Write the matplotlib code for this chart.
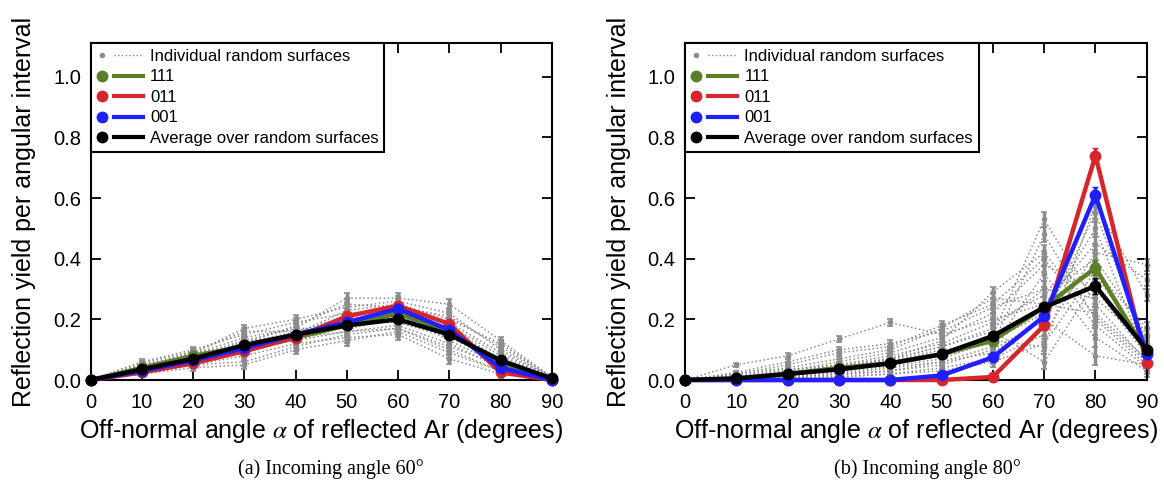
import numpy as np
import matplotlib
matplotlib.use("Agg")
import matplotlib.pyplot as plt
from matplotlib.lines import Line2D
from matplotlib.legend_handler import HandlerBase

plt.rcParams["font.family"] = ["Liberation Sans", "DejaVu Sans"]
plt.rcParams["mathtext.fontset"] = "stix"

angles = [0, 10, 20, 30, 40, 50, 60, 70, 80, 90]

# panel (a): incoming angle 60 deg
a_111 = [0, 0.040, 0.080, 0.110, 0.140, 0.180, 0.220, 0.160, 0.050, 0.000]
a_011 = [0, 0.025, 0.055, 0.095, 0.140, 0.210, 0.245, 0.185, 0.025, 0.000]
a_001 = [0, 0.030, 0.065, 0.105, 0.150, 0.190, 0.235, 0.165, 0.040, 0.000]
a_avg = [0, 0.035, 0.070, 0.115, 0.150, 0.180, 0.200, 0.150, 0.065, 0.005]
a_err_main = [0, 0.006, 0.007, 0.008, 0.009, 0.010, 0.010, 0.009, 0.007, 0.002]
a_surfaces = [
    [0, 0.040, 0.080, 0.130, 0.170, 0.270, 0.270, 0.250, 0.130, 0.010],
    [0, 0.050, 0.090, 0.170, 0.200, 0.240, 0.260, 0.220, 0.100, 0.010],
    [0, 0.030, 0.060, 0.100, 0.130, 0.160, 0.180, 0.120, 0.040, 0.000],
    [0, 0.020, 0.050, 0.060, 0.110, 0.150, 0.170, 0.100, 0.030, 0.000],
    [0, 0.040, 0.070, 0.120, 0.160, 0.190, 0.210, 0.170, 0.070, 0.005],
    [0, 0.060, 0.100, 0.150, 0.190, 0.220, 0.230, 0.190, 0.090, 0.010],
    [0, 0.030, 0.050, 0.080, 0.120, 0.140, 0.150, 0.070, 0.020, 0.000],
    [0, 0.035, 0.075, 0.110, 0.150, 0.200, 0.190, 0.140, 0.060, 0.005],
    [0, 0.045, 0.085, 0.140, 0.170, 0.170, 0.200, 0.180, 0.080, 0.010],
    [0, 0.025, 0.065, 0.090, 0.140, 0.180, 0.220, 0.130, 0.050, 0.000],
    [0, 0.050, 0.080, 0.120, 0.180, 0.250, 0.240, 0.210, 0.110, 0.010],
    [0, 0.020, 0.040, 0.050, 0.100, 0.130, 0.160, 0.090, 0.030, 0.000],
    [0, 0.040, 0.090, 0.160, 0.160, 0.210, 0.190, 0.150, 0.060, 0.005],
    [0, 0.030, 0.060, 0.130, 0.140, 0.160, 0.170, 0.110, 0.050, 0.000],
    [0, 0.055, 0.095, 0.100, 0.150, 0.230, 0.250, 0.200, 0.120, 0.010],
    [0, 0.035, 0.070, 0.110, 0.130, 0.180, 0.210, 0.160, 0.040, 0.005],
]
a_err_surf = [0.002, 0.008, 0.010, 0.013, 0.015, 0.018, 0.018, 0.016, 0.012, 0.003]

# panel (b): incoming angle 80 deg
b_111 = [0, 0.005, 0.020, 0.040, 0.055, 0.085, 0.130, 0.240, 0.370, 0.090]
b_011 = [0, 0.000, 0.000, 0.000, 0.000, 0.000, 0.010, 0.180, 0.740, 0.055]
b_001 = [0, 0.000, 0.000, 0.000, 0.000, 0.015, 0.075, 0.210, 0.610, 0.085]
b_avg = [0, 0.005, 0.020, 0.035, 0.055, 0.085, 0.145, 0.240, 0.310, 0.100]
b_err_main = [0, 0.003, 0.004, 0.005, 0.006, 0.008, 0.012, 0.015, 0.025, 0.010]
b_surfaces = [
    [0, 0.005, 0.020, 0.040, 0.070, 0.110, 0.170, 0.300, 0.350, 0.100],
    [0, 0.010, 0.030, 0.060, 0.090, 0.140, 0.220, 0.380, 0.300, 0.080],
    [0, 0.050, 0.080, 0.135, 0.190, 0.150, 0.200, 0.250, 0.220, 0.070],
    [0, 0.000, 0.010, 0.020, 0.030, 0.050, 0.100, 0.200, 0.550, 0.120],
    [0, 0.005, 0.015, 0.030, 0.050, 0.090, 0.150, 0.530, 0.250, 0.060],
    [0, 0.020, 0.040, 0.070, 0.100, 0.170, 0.270, 0.250, 0.450, 0.330],
    [0, 0.000, 0.005, 0.010, 0.020, 0.040, 0.070, 0.150, 0.420, 0.380],
    [0, 0.010, 0.020, 0.040, 0.060, 0.100, 0.120, 0.480, 0.200, 0.050],
    [0, 0.000, 0.010, 0.020, 0.040, 0.060, 0.090, 0.200, 0.080, 0.050],
    [0, 0.015, 0.035, 0.050, 0.080, 0.120, 0.190, 0.280, 0.400, 0.150],
    [0, 0.005, 0.015, 0.035, 0.050, 0.080, 0.130, 0.110, 0.580, 0.280],
    [0, 0.020, 0.050, 0.090, 0.110, 0.180, 0.250, 0.400, 0.180, 0.040],
    [0, 0.000, 0.005, 0.015, 0.030, 0.060, 0.110, 0.350, 0.140, 0.030],
    [0, 0.010, 0.025, 0.045, 0.065, 0.110, 0.160, 0.060, 0.320, 0.090],
    [0, 0.005, 0.010, 0.025, 0.045, 0.070, 0.130, 0.220, 0.500, 0.070],
    [0, 0.025, 0.060, 0.100, 0.120, 0.160, 0.240, 0.300, 0.270, 0.120],
    [0, 0.000, 0.000, 0.010, 0.020, 0.030, 0.060, 0.120, 0.360, 0.170],
    [0, 0.010, 0.030, 0.050, 0.070, 0.130, 0.290, 0.420, 0.210, 0.060],
]
b_err_surf = [0.002, 0.006, 0.008, 0.010, 0.012, 0.015, 0.018, 0.025, 0.030, 0.020]

legend_labels = ["Individual random surfaces", "111", "011", "001",
                 "Average over random surfaces"]

GRAY = "#8c8c8c"
GREEN = "#5b7f24"
RED = "#d7262b"
BLUE = "#1f1fff"
BLACK = "#000000"


class DotThenLine(HandlerBase):
    """Legend entry drawn as a dot on the left followed by a short line."""

    def create_artists(self, legend, orig_handle, xdescent, ydescent,
                       width, height, fontsize, trans):
        y = height / 2 - ydescent
        dot = Line2D([0.12 * width - xdescent], [y], ls="none",
                     marker="o", ms=orig_handle.get_markersize(),
                     color=orig_handle.get_color())
        seg = Line2D([0.37 * width - xdescent, width - xdescent], [y, y],
                     color=orig_handle.get_color(),
                     lw=orig_handle.get_linewidth())
        if orig_handle.get_gid() == "dotted":
            seg.set_linestyle(":")
        dot.set_transform(trans)
        seg.set_transform(trans)
        return [dot, seg]


def draw_panel(ax, surfaces, err_surf, series, err_main):
    for s in surfaces:
        ax.errorbar(angles, s, yerr=err_surf, color=GRAY, ls=":",
                    lw=1.1, marker="o", ms=3, elinewidth=2.5, capsize=2.5,
                    capthick=1.2, zorder=2, clip_on=False)
    for vals, col in series:
        ax.errorbar(angles, vals, yerr=err_main, color=col, lw=3.2, marker="o",
                    ms=7.5, elinewidth=2.5, capsize=2, zorder=4, clip_on=False)

    ax.set_xlim(0, 90)
    ax.set_ylim(0, 1.11)
    ax.set_xticks(angles)
    ax.set_yticks([0.0, 0.2, 0.4, 0.6, 0.8, 1.0])
    ax.set_yticklabels(["0.0", "0.2", "0.4", "0.6", "0.8", "1.0"])
    ax.tick_params(direction="in", length=7, width=1.3, labelsize=14.5,
                   top=True, right=True)
    ax.tick_params(axis="x", pad=9)
    ax.tick_params(axis="y", pad=7)
    for sp in ax.spines.values():
        sp.set_linewidth(1.5)
    ax.set_xlabel(r"Off-normal angle $\alpha$ of reflected Ar (degrees)",
                  fontsize=18, labelpad=4)
    ax.set_ylabel("Reflection yield per angular interval", fontsize=18,
                  labelpad=12)

    gray_handle = Line2D([], [], color=GRAY, marker="o", ms=3, lw=1)
    gray_handle.set_gid("dotted")
    handles = [gray_handle]
    for _, col in series:
        handles.append(Line2D([], [], color=col, marker="o", ms=7.5, lw=3))
    leg = ax.legend(handles, legend_labels, loc="upper left", borderaxespad=0,
                    fontsize=12, handlelength=2.8, handletextpad=0.42,
                    labelspacing=0.33, fancybox=False, edgecolor="black",
                    framealpha=1, borderpad=0.34,
                    handler_map={Line2D: DotThenLine()})
    leg.get_frame().set_linewidth(1.5)
    leg.set_zorder(10)


fig = plt.figure(figsize=(11.64, 4.82), dpi=100)
ax1 = fig.add_axes([0.0779, 0.2116, 0.3961, 0.6985])
ax2 = fig.add_axes([0.5885, 0.2116, 0.3967, 0.6985])

draw_panel(ax1, a_surfaces, a_err_surf,
           [(a_111, GREEN), (a_011, RED), (a_001, BLUE), (a_avg, BLACK)], a_err_main)
draw_panel(ax2, b_surfaces, b_err_surf,
           [(b_111, GREEN), (b_011, RED), (b_001, BLUE), (b_avg, BLACK)], b_err_main)

fig.text(0.284, 0.0166, "(a) Incoming angle 60°", ha="center", va="baseline",
         fontsize=14.5, family=["Liberation Serif", "DejaVu Serif"])
fig.text(0.797, 0.0166, "(b) Incoming angle 80°", ha="center", va="baseline",
         fontsize=14.5, family=["Liberation Serif", "DejaVu Serif"])

fig.savefig("out.png", dpi=100)
